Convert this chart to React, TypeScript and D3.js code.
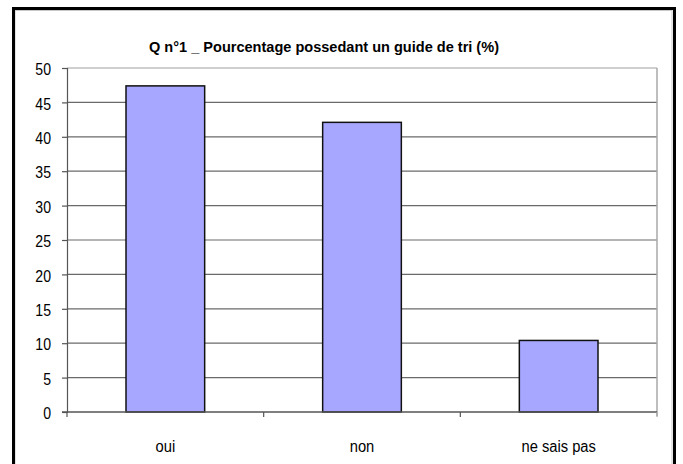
import React from 'react';
import * as d3 from 'd3';

// Data
const categories: string[] = ['oui', 'non', 'ne sais pas'];
const values: number[] = [47.4, 42.1, 10.4];
const yTicks: number[] = [0, 5, 10, 15, 20, 25, 30, 35, 40, 45, 50];
const title = 'Q n°1 _ Pourcentage possedant un guide de tri (%)';

const W = 683;
const H = 464;
const plot = { left: 67, right: 657, top: 68, bottom: 412 };

function App() {
    const ref = React.useRef<SVGSVGElement>(null);

    React.useEffect(() => {
        const svg = d3.select(ref.current);
        svg.selectAll('*').remove();

        const x = d3.scaleBand<string>().domain(categories).range([plot.left, plot.right]).padding(0);
        const y = d3.scaleLinear().domain([0, 50]).range([plot.bottom, plot.top]);
        const barW = x.bandwidth() * 0.4;

        const g = svg.append('g').attr('font-family', '"Liberation Sans", Arial, sans-serif');

        // gridlines
        g.append('g')
            .selectAll('line')
            .data(yTicks.filter((t) => t > 0))
            .join('line')
            .attr('x1', plot.left)
            .attr('x2', plot.right)
            .attr('y1', (d) => y(d))
            .attr('y2', (d) => y(d))
            .attr('stroke', (d) => d === 50 ? '#a0a0a0' : '#6a6a6a')
            .attr('stroke-width', 1.2);

        // right plot border
        g.append('line')
            .attr('x1', plot.right).attr('x2', plot.right)
            .attr('y1', plot.top).attr('y2', plot.bottom + 4)
            .attr('stroke', '#a8a8a8').attr('stroke-width', 1.5);

        // bars
        g.append('g')
            .selectAll('rect')
            .data(values)
            .join('rect')
            .attr('x', (d, i) => (x(categories[i]) as number) + (x.bandwidth() - barW) / 2)
            .attr('y', (d) => y(d))
            .attr('width', barW)
            .attr('height', (d) => y(0) - y(d))
            .attr('fill', '#a7a7ff')
            .attr('stroke', '#111')
            .attr('stroke-width', 1.5);

        // y axis
        const yAxis = g.append('g')
            .attr('transform', `translate(${plot.left},0)`)
            .call(d3.axisLeft(y).tickValues(yTicks).tickSize(5).tickPadding(4));
        yAxis.select('.domain').attr('stroke', '#555').attr('stroke-width', 1.2);
        yAxis.selectAll('.tick line').attr('stroke', '#555').attr('stroke-width', 1.2);
        yAxis.selectAll('.tick text')
            .attr('x', 0)
            .attr('dy', '0.36em')
            .attr('transform', 'translate(-16,1) scale(0.88,1)')
            .attr('font-size', 16)
            .attr('fill', '#000')
            .attr('font-family', '"Liberation Sans", Arial, sans-serif');

        // x axis
        const xAxis = g.append('g')
            .attr('transform', `translate(0,${plot.bottom})`);
        xAxis.append('line')
            .attr('x1', plot.left - 5).attr('x2', plot.right)
            .attr('stroke', '#555').attr('stroke-width', 1.5);
        xAxis.selectAll('line.tk')
            .data(d3.range(categories.length + 1))
            .join('line')
            .attr('class', 'tk')
            .attr('x1', (i) => plot.left + i * x.step())
            .attr('x2', (i) => plot.left + i * x.step())
            .attr('y1', 0).attr('y2', 5)
            .attr('stroke', (i) => i === categories.length ? '#a8a8a8' : '#555')
            .attr('stroke-width', 1.2);
        xAxis.selectAll('text')
            .data(categories)
            .join('text')
            .attr('transform', (d) => `translate(${(x(d) as number) + x.bandwidth() / 2},40) scale(0.92,1)`)
            .attr('text-anchor', 'middle')
            .attr('font-size', 16)
            .text((d) => d);

        // title
        g.append('text')
            .attr('transform', 'translate(324,52) scale(0.97,1)')
            .attr('text-anchor', 'middle')
            .attr('font-size', 15)
            .attr('font-weight', 'bold')
            .text(title);

        // outer frame
        svg.append('rect')
            .attr('x', 15).attr('y', 10.5)
            .attr('width', 657).attr('height', 470)
            .attr('fill', 'none').attr('stroke', '#c8c8c8').attr('stroke-width', 1);
        svg.append('rect')
            .attr('x', 13.5).attr('y', 8.5)
            .attr('width', 661).attr('height', 480)
            .attr('fill', 'none').attr('stroke', '#000').attr('stroke-width', 3);
    }, []);

    return (
        <svg
            ref={ref}
            width={W}
            height={H}
            style={{ position: 'absolute', left: 0, top: 0, background: '#fff' }}
        />
    );
}

export default App;
